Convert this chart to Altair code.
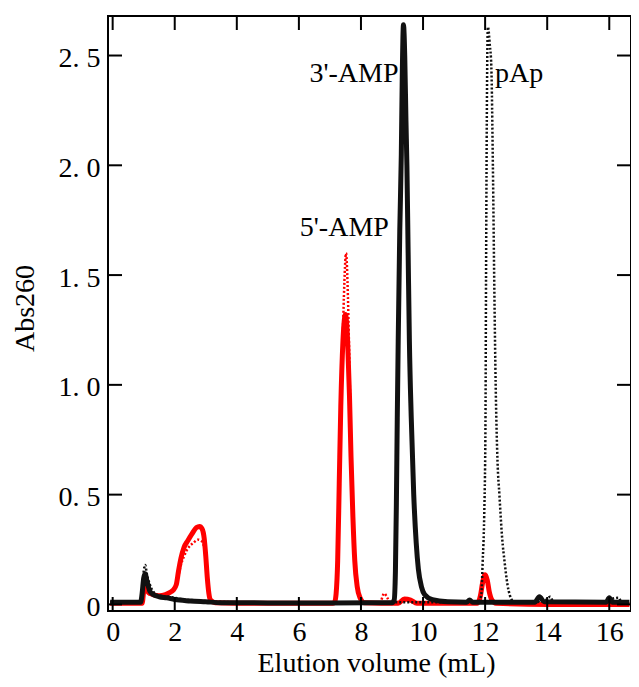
import altair as alt
import pandas as pd

# ---- data ----
red_solid_x = [-0.08, 0.95, 1.0, 1.05, 1.15, 1.3, 1.5, 1.7, 1.85, 1.95, 2.05, 2.12, 2.2, 2.3, 2.42, 2.55, 2.7, 2.8, 2.88, 2.95, 3.0, 3.05, 3.1, 3.15, 3.3, 5.0, 7.1, 7.15, 7.2, 7.25, 7.3, 7.35, 7.42, 7.5, 7.57, 7.63, 7.68, 7.74, 7.8, 7.88, 7.97, 8.1, 9.2, 9.4, 9.6, 9.8, 11.75, 11.85, 11.92, 12.0, 12.07, 12.13, 12.22, 12.35, 14.0, 16.65]
red_solid_y = [0.005, 0.005, 0.06, 0.08, 0.055, 0.045, 0.04, 0.045, 0.055, 0.065, 0.09, 0.15, 0.21, 0.26, 0.29, 0.32, 0.35, 0.355, 0.345, 0.3, 0.22, 0.12, 0.05, 0.02, 0.008, 0.005, 0.005, 0.01, 0.05, 0.2, 0.55, 0.9, 1.2, 1.32, 1.2, 0.95, 0.67, 0.4, 0.2, 0.08, 0.03, 0.008, 0.005, 0.025, 0.02, 0.005, 0.005, 0.04, 0.1, 0.135, 0.11, 0.06, 0.02, 0.005, 0.0, 0.0]

red_dot_x = [-0.08, 0.95, 1.0, 1.05, 1.2, 1.5, 1.8, 2.0, 2.1, 2.2, 2.3, 2.45, 2.6, 2.75, 2.85, 2.95, 3.0, 3.05, 3.1, 3.2, 5.0, 7.1, 7.15, 7.22, 7.3, 7.38, 7.45, 7.52, 7.58, 7.64, 7.7, 7.76, 7.83, 7.92, 8.05, 8.6, 8.75, 8.85, 8.95, 9.3, 9.5, 9.8, 10.0, 11.75, 11.85, 11.92, 12.0, 12.07, 12.13, 12.22, 12.35, 14.0, 16.65]
red_dot_y = [0.005, 0.005, 0.06, 0.07, 0.05, 0.04, 0.05, 0.07, 0.12, 0.18, 0.22, 0.26, 0.28, 0.295, 0.29, 0.26, 0.2, 0.11, 0.04, 0.01, 0.005, 0.005, 0.01, 0.1, 0.5, 1.0, 1.4, 1.6, 1.4, 1.0, 0.6, 0.35, 0.15, 0.05, 0.01, 0.005, 0.05, 0.03, 0.005, 0.015, 0.015, 0.01, 0.005, 0.005, 0.04, 0.1, 0.13, 0.1, 0.05, 0.02, 0.005, 0.0, 0.0]

black_solid_x = [-0.08, 0.9, 0.95, 1.0, 1.05, 1.1, 1.2, 1.3, 1.5, 1.75, 2.0, 2.5, 3.0, 3.5, 5.0, 7.0, 9.0, 9.07, 9.11, 9.14, 9.17, 9.2, 9.25, 9.3, 9.33, 9.37, 9.41, 9.45, 9.48, 9.52, 9.56, 9.62, 9.7, 9.78, 9.85, 9.95, 10.05, 10.3, 10.8, 11.4, 11.5, 11.6, 12.5, 13.6, 13.75, 13.9, 15.9, 16.0, 16.1, 16.65]
black_solid_y = [0.01, 0.01, 0.05, 0.12, 0.14, 0.11, 0.06, 0.045, 0.035, 0.03, 0.022, 0.016, 0.012, 0.008, 0.007, 0.007, 0.008, 0.02, 0.15, 0.45, 0.85, 1.2, 1.7, 2.05, 2.4, 2.64, 2.5, 2.2, 2.0, 1.6, 1.2, 0.85, 0.5, 0.28, 0.16, 0.08, 0.045, 0.022, 0.012, 0.01, 0.02, 0.01, 0.01, 0.01, 0.035, 0.012, 0.01, 0.03, 0.01, 0.01]

black_dot_x = [-0.08, 0.9, 0.95, 1.0, 1.05, 1.1, 1.2, 1.3, 1.5, 1.8, 2.2, 3.0, 4.0, 6.0, 8.0, 10.0, 11.5, 11.8, 11.88, 11.92, 11.97, 12.01, 12.03, 12.05, 12.07, 12.09, 12.15, 12.2, 12.25, 12.3, 12.34, 12.4, 12.46, 12.55, 12.63, 12.72, 12.8, 12.9, 13.1, 13.7, 13.8, 13.9, 14.1, 14.2, 15.9, 16.0, 16.3, 16.4, 16.65]
black_dot_y = [0.01, 0.01, 0.07, 0.15, 0.18, 0.14, 0.09, 0.06, 0.04, 0.035, 0.025, 0.015, 0.01, 0.01, 0.01, 0.01, 0.01, 0.012, 0.05, 0.19, 0.4, 0.8, 1.5, 2.1, 2.5, 2.63, 2.55, 2.45, 2.0, 1.4, 1.0, 0.65, 0.5, 0.3, 0.19, 0.09, 0.04, 0.015, 0.01, 0.01, 0.03, 0.015, 0.035, 0.01, 0.01, 0.02, 0.03, 0.01, 0.01]

x_ticks = [0, 2, 4, 6, 8, 10, 12, 14, 16]
y_ticks = [0, 0.5, 1.0, 1.5, 2.0, 2.5]

label_text = ["3'-AMP", "pAp", "5'-AMP"]
label_x = [6.34, 12.32, 6.03]
label_y = [2.378, 2.378, 1.68]

# ---- chart ----
W, H = 523, 595
FONT = "Liberation Serif"
TICK = 14

xs = alt.Scale(domain=[-0.15, 16.7], nice=False, zero=False)
ys = alt.Scale(domain=[-0.03, 2.68], nice=False, zero=False)

x_axis = alt.Axis(values=x_ticks, ticks=False, domain=False, grid=False,
                  labelFont=FONT, labelFontSize=28, labelColor="black",
                  labelPadding=7, labelFlush=False, labelOverlap=False,
                  title="Elution volume (mL)", titleFont=FONT, titleFontSize=28,
                  titleFontWeight="normal", titleColor="black",
                  titleBaseline="alphabetic", titleY=60, titleX=268)
y_axis = alt.Axis(values=y_ticks, ticks=False, domain=False, grid=False,
                  labelFont=FONT, labelFontSize=28, labelColor="black",
                  labelPadding=8, labelFlush=False, labelOverlap=False,
                  labelBaseline="middle", labelOffset=3,
                  labelExpr="datum.value == 0 ? '0' : replace(format(datum.value, '.1f'), '.', '. ')",
                  title="Abs260", titleFont=FONT, titleFontSize=28,
                  titleFontWeight="normal", titleColor="black",
                  titleAngle=270, titleBaseline="alphabetic", titleAlign="center",
                  titleX=-75, titleY=292)

X = alt.X("x:Q", scale=xs, axis=x_axis)
Y = alt.Y("y:Q", scale=ys, axis=y_axis)


def trace(xv, yv, color, width, dash=None):
    assert len(xv) == len(yv)
    df = pd.DataFrame({"x": xv, "y": yv})
    kw = dict(color=color, strokeWidth=width, interpolate="monotone", clip=True)
    if dash:
        kw["strokeDash"] = dash
    return alt.Chart(df).mark_line(**kw).encode(x=X, y=Y)


red_solid = trace(red_solid_x, red_solid_y, "#ff0000", 5)
red_dot = trace(red_dot_x, red_dot_y, "#ff0000", 2.5, dash=[2, 2])
black_dot = trace(black_dot_x, black_dot_y, "#111111", 2.5, dash=[2, 2])
black_solid = trace(black_solid_x, black_solid_y, "#111111", 5)

xt = pd.DataFrame({"x": x_ticks})
yt = pd.DataFrame({"y": y_ticks})
tick_bottom = alt.Chart(xt).mark_rule(color="black", strokeWidth=2).encode(
    x=X, y=alt.value(H), y2=alt.value(H - TICK))
tick_top = alt.Chart(xt).mark_rule(color="black", strokeWidth=2).encode(
    x=X, y=alt.value(0), y2=alt.value(TICK))
tick_left = alt.Chart(yt).mark_rule(color="black", strokeWidth=2).encode(
    y=Y, x=alt.value(0), x2=alt.value(TICK))
tick_right = alt.Chart(yt).mark_rule(color="black", strokeWidth=2).encode(
    y=Y, x=alt.value(W), x2=alt.value(W - TICK))

labels = alt.Chart(pd.DataFrame({"t": label_text, "x": label_x, "y": label_y})).mark_text(
    align="left", baseline="alphabetic", font=FONT, fontSize=28, color="black"
).encode(x=X, y=Y, text="t:N")

chart = alt.layer(
    red_solid, red_dot, black_dot, black_solid,
    tick_bottom, tick_top, tick_left, tick_right, labels
).properties(
    width=W, height=H,
    autosize=alt.AutoSizeParams(type="none"),
    padding={"left": 100, "top": 8, "right": 0, "bottom": 68},
).configure_view(stroke="black", strokeWidth=2)

chart.save("out.html", embed_options={"renderer": "svg", "actions": False})
